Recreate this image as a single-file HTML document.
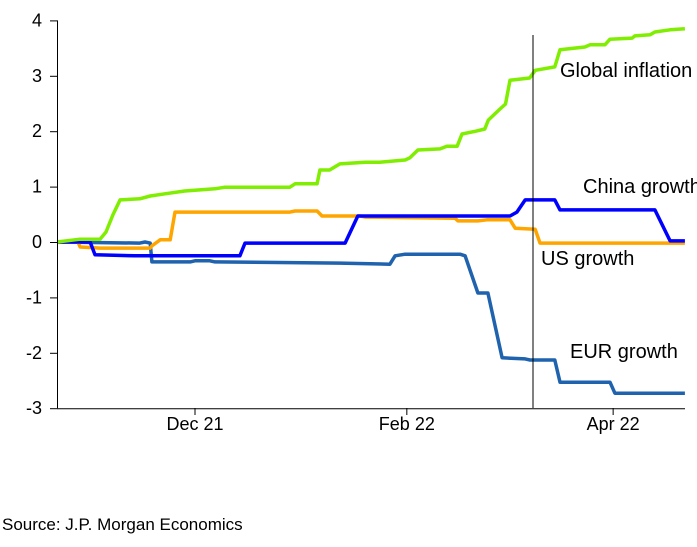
<!DOCTYPE html>
<html><head><meta charset="utf-8"><style>
html,body{margin:0;padding:0;background:#fff;overflow:hidden}
svg text{font-family:"Liberation Sans",Arial,sans-serif}
</style></head><body>
<svg id="chart" width="697" height="542" xmlns="http://www.w3.org/2000/svg">
<g id="lines"></g>
<g id="axes"></g>
<line x1="533" y1="35" x2="533" y2="408" stroke="#000" stroke-width="1"/>
<text x="560" y="77" font-size="20">Global inflation</text>
<text x="583" y="193" font-size="20">China growth</text>
<text x="541" y="265" font-size="20">US growth</text>
<text x="570" y="358" font-size="20">EUR growth</text>
<text x="2" y="530" font-size="17">Source: J.P. Morgan Economics</text>
</svg>
<script>
const yTicks=[4,3,2,1,0,-1,-2,-3];
const yTickLabels=["4","3","2","1","0","-1","-2","-3"];
const xTickDays=[40,101.4,161.2];
const xTickLabels=["Dec 21","Feb 22","Apr 22"];
const globalDays=[0,6.7,12.5,14.2,16.2,18.3,24,27,31.3,37,41.4,45.8,48.7,67.5,69,75.4,76.2,79,82,89.3,93.6,100.9,102.3,104.6,111,113,116,117.4,121.4,124,125,128.4,130,131.3,137,138.6,144.3,145.8,153,154.5,158.8,160.3,166.7,167.5,171.9,173.3,177.7,182];
const globalVals=[0,.05,.05,.18,.49,.76,.78,.83,.87,.92,.94,.96,.99,.99,1.05,1.05,1.3,1.3,1.41,1.44,1.44,1.48,1.52,1.66,1.68,1.73,1.73,1.95,2.0,2.04,2.2,2.4,2.49,2.92,2.96,3.1,3.16,3.47,3.52,3.56,3.56,3.66,3.68,3.72,3.74,3.79,3.83,3.85];
const usDays=[0,6.1,6.7,12.5,27,27.5,29.9,32.8,34.2,67.5,69,75.4,76.8,87.8,89.3,115.4,116.2,122,124.6,131.3,132.8,138.6,140,182];
const usVals=[0,0,-.09,-.11,-.11,-.07,.04,.04,.54,.54,.56,.56,.47,.47,.45,.43,.38,.38,.4,.4,.25,.23,-.02,-.02];
const chinaDays=[0,9.6,11,22.6,53,54.5,83.5,87.2,131.3,133.3,135.7,144.3,145.8,173.3,177.7,182];
const chinaVals=[0,0,-.23,-.25,-.25,-.02,-.02,.47,.47,.54,.76,.76,.58,.58,.02,.02];
const eurDays=[0,24,25.5,27,27.5,38.6,40,44.3,45.8,82,96.5,98,100.9,116.8,118.3,122,124.9,129,135.7,137.1,144.3,145.8,160.3,161.7,182];
const eurVals=[0,-.02,0,-.02,-.36,-.36,-.34,-.34,-.36,-.38,-.4,-.25,-.22,-.22,-.25,-.92,-.92,-2.09,-2.11,-2.13,-2.13,-2.53,-2.53,-2.73,-2.73];
const X0=57,PXD=3.45,Y0=242,PXU=55.4;
function xs(d){return X0+d*PXD;}
function ys(v){return Y0-v*PXU;}
const NS="http://www.w3.org/2000/svg";
const lines=document.getElementById('lines');
function series(days,vals,color,name,w){
  const p=document.createElementNS(NS,'polyline');
  p.setAttribute('points',days.map((d,i)=>xs(d).toFixed(1)+','+ys(vals[i]).toFixed(1)).join(' '));
  p.setAttribute('fill','none');p.setAttribute('stroke',color);p.setAttribute('stroke-width',w);
  p.setAttribute('stroke-linejoin','round');
  
  
  lines.appendChild(p);
}
series(eurDays,eurVals,'#1f62ad','eur-growth-line',3.5);
series(usDays,usVals,'#ffa500','us-growth-line',3.5);
series(chinaDays,chinaVals,'#0000ff','china-growth-line',3.5);
series(globalDays,globalVals,'#7fee00','global-inflation-line',3.5);
const ax=document.getElementById('axes');
function ln(x1,y1,x2,y2,name){const l=document.createElementNS(NS,'line');l.setAttribute('x1',x1);l.setAttribute('y1',y1);l.setAttribute('x2',x2);l.setAttribute('y2',y2);l.setAttribute('stroke','#000');l.setAttribute('stroke-width','1');


ax.appendChild(l);}
function tx(x,y,s,anchor,name){const t=document.createElementNS(NS,'text');t.setAttribute('x',x);t.setAttribute('y',y);t.setAttribute('font-size','18');t.setAttribute('text-anchor',anchor);t.textContent=s;


ax.appendChild(t);}
ln(57.5,ys(4),57.5,ys(-3),'y-axis');
ln(57,ys(-3)+.5,685,ys(-3)+.5,'x-axis');
yTicks.forEach((v,i)=>{ln(50,ys(v)+.5,57,ys(v)+.5,'y-tick');tx(42,ys(v)+6,yTickLabels[i],'end','y-tick-label');});
xTickDays.forEach((d,i)=>{ln(xs(d),408,xs(d),415,'x-tick');tx(xs(d),430,xTickLabels[i],'middle','x-tick-label');});
</script>
</body></html>
